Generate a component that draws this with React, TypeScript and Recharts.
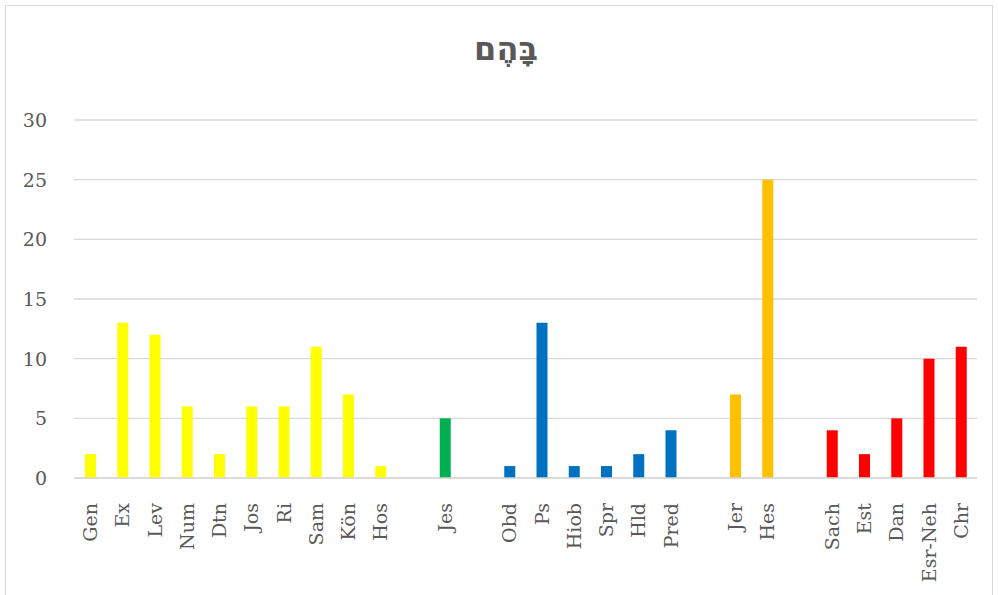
import React from 'react'
import { BarChart, Bar, XAxis, YAxis, CartesianGrid, Cell } from 'recharts'

// empty strings are the gaps between the book groups
const books = [
  'Gen', 'Ex', 'Lev', 'Num', 'Dtn', 'Jos', 'Ri', 'Sam', 'Kön', 'Hos',
  '',
  'Jes',
  '',
  'Obd', 'Ps', 'Hiob', 'Spr', 'Hld', 'Pred',
  '',
  'Jer', 'Hes',
  '',
  'Sach', 'Est', 'Dan', 'Esr-Neh', 'Chr',
]

const counts = [
  2, 13, 12, 6, 2, 6, 6, 11, 7, 1,
  null,
  5,
  null,
  1, 13, 1, 1, 2, 4,
  null,
  7, 25,
  null,
  4, 2, 5, 10, 11,
]

const groups = [
  0, 0, 0, 0, 0, 0, 0, 0, 0, 0,
  -1,
  1,
  -1,
  2, 2, 2, 2, 2, 2,
  -1,
  3, 3,
  -1,
  4, 4, 4, 4, 4,
]

const groupColors = ['#FFFF00', '#00B050', '#0070C0', '#FFC000', '#FF0000']

const yTicks = [0, 5, 10, 15, 20, 25, 30]

const data = books.map((name, i) => ({ name, value: counts[i], group: groups[i] }))

const textColor = '#595959'
const serif = '"DejaVu Serif", serif'

const XTick = (props: any) => {
  const { x, y, payload } = props
  return (
    <text
      x={0}
      y={0}
      transform={`translate(${x + 7},${y + 17}) rotate(-90)`}
      textAnchor="end"
      fill={textColor}
      fontSize={19}
      fontFamily={serif}
    >
      {payload.value}
    </text>
  )
}

const YTick = (props: any) => {
  const { y, payload } = props
  return (
    <text x={47} y={y + 7} textAnchor="end" fill={textColor} fontSize={19} fontFamily={serif}>
      {payload.value}
    </text>
  )
}

export default function App() {
  return (
    <div style={{ position: 'absolute', left: 0, top: 0, width: 998, height: 595, background: '#fff', overflow: 'hidden' }}>
      <div
        style={{
          position: 'absolute',
          left: 5,
          top: 5,
          width: 988,
          height: 610,
          border: '1px solid #d9d9d9',
          boxSizing: 'border-box',
        }}
      />
      <div
        style={{
          position: 'absolute',
          left: 7,
          top: 30,
          width: 998,
          textAlign: 'center',
          fontFamily: '"DejaVu Sans", sans-serif',
          fontSize: 32,
          fontWeight: 'bold',
          color: textColor,
          direction: 'rtl',
        }}
      >
        בָּהֶם
      </div>
      <div style={{ position: 'absolute', left: 0, top: 0 }}>
        <BarChart
          width={998}
          height={595}
          data={data}
          margin={{ top: 120, right: 21, bottom: 0, left: 0 }}
          barSize={11}
        >
          <CartesianGrid vertical={false} stroke="#d9d9d9" strokeWidth={1.3} />
          <XAxis
            dataKey="name"
            interval={0}
            axisLine={{ stroke: '#d9d9d9', strokeWidth: 1.3 }}
            tickLine={false}
            height={117}
            tick={<XTick />}
          />
          <YAxis
            width={74}
            domain={[0, 30]}
            ticks={yTicks}
            axisLine={false}
            tickLine={false}
            tick={<YTick />}
          />
          <Bar dataKey="value" isAnimationActive={false}>
            {data.map((d, i) => (
              <Cell key={i} fill={d.group >= 0 ? groupColors[d.group] : 'transparent'} />
            ))}
          </Bar>
        </BarChart>
      </div>
    </div>
  )
}
